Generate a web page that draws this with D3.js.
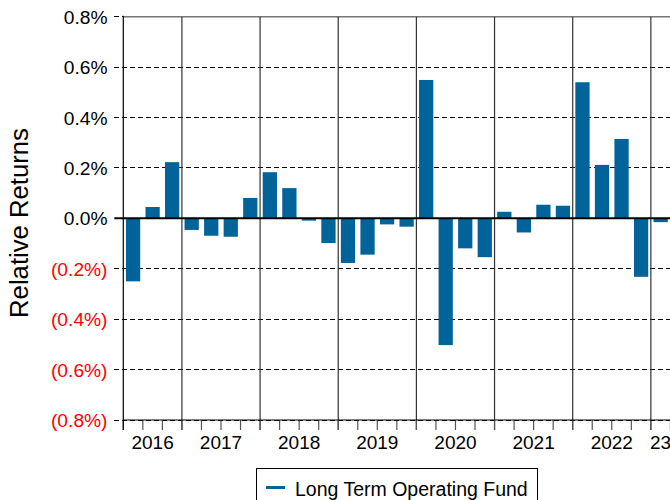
<!DOCTYPE html>
<html>
<head>
<meta charset="utf-8">
<script src="https://cdn.jsdelivr.net/npm/d3@7"></script>
<style>
  html, body { margin: 0; padding: 0; background: #fff; overflow: hidden; }
  svg { display: block; font-family: "Liberation Sans", Arial, sans-serif; }
</style>
</head>
<body>
<svg id="chart" width="670" height="500"></svg>
<script>
// Quarterly relative returns (%), Q2 2016 through Q1 2023
const quarters = [
  "2016Q2", "2016Q3", "2016Q4",
  "2017Q1", "2017Q2", "2017Q3", "2017Q4",
  "2018Q1", "2018Q2", "2018Q3", "2018Q4",
  "2019Q1", "2019Q2", "2019Q3", "2019Q4",
  "2020Q1", "2020Q2", "2020Q3", "2020Q4",
  "2021Q1", "2021Q2", "2021Q3", "2021Q4",
  "2022Q1", "2022Q2", "2022Q3", "2022Q4",
  "2023Q1"
];
const relativeReturns = [
  -0.25, 0.045, 0.223,
  -0.046, -0.069, -0.073, 0.081,
  0.183, 0.120, -0.009, -0.098,
  -0.177, -0.144, -0.024, -0.033,
  0.549, -0.503, -0.119, -0.154,
  0.026, -0.056, 0.054, 0.050,
  0.540, 0.212, 0.315, -0.232,
  -0.015
];
const years = ["2016", "2017", "2018", "2019", "2020", "2021", "2022", "2023"];
const yearLabels = ["2016", "2017", "2018", "2019", "2020", "2021", "2022", "23"];
const yTicks = [-0.8, -0.6, -0.4, -0.2, 0, 0.2, 0.4, 0.6, 0.8];
const seriesName = "Long Term Operating Fund";

const barColor = "#00649b";
const plotLeft = 123.3, plotRight = 670.4, plotTop = 16.7, plotBottom = 420;

const svg = d3.select("#chart");

const y = d3.scaleLinear().domain([-0.8, 0.8]).range([plotBottom, plotTop]);
const pad = 0.27;
const x = d3.scaleBand().domain(quarters).range([plotLeft, plotRight])
  .paddingInner(pad).paddingOuter(pad / 2);
// continuous quarter index scale for boundaries
const xi = d3.scaleLinear().domain([0, quarters.length]).range([plotLeft, plotRight]);

// dashed horizontal gridlines (extend left of the axis as ticks)
svg.append("g").selectAll("line").data(yTicks.filter(d => d !== 0)).join("line")
  .attr("x1", plotLeft - 9).attr("x2", plotRight)
  .attr("y1", d => y(d)).attr("y2", d => y(d))
  .attr("stroke", "#000").attr("stroke-width", 1)
  .attr("stroke-dasharray", "5,3").attr("shape-rendering", "crispEdges");

// top frame
svg.append("line").attr("x1", plotLeft).attr("x2", 670).attr("y1", plotTop).attr("y2", plotTop)
  .attr("stroke", "#777").attr("stroke-width", 1.5);

// year boundary lines
const yearStart = years.map(yr => quarters.findIndex(q => q.startsWith(yr)));
svg.append("g").selectAll("line").data(yearStart.slice(1)).join("line")
  .attr("x1", d => xi(d)).attr("x2", d => xi(d))
  .attr("y1", plotTop).attr("y2", plotBottom + 10)
  .attr("stroke", "#333").attr("stroke-width", 1.2);

// quarter ticks on the x axis
svg.append("g").selectAll("line").data(d3.range(quarters.length + 1)).join("line")
  .attr("x1", d => xi(d)).attr("x2", d => xi(d))
  .attr("y1", plotBottom).attr("y2", plotBottom + 10)
  .attr("stroke", "#555").attr("stroke-width", 1.2);

// bars
svg.append("g").selectAll("rect").data(relativeReturns).join("rect")
  .attr("x", (d, i) => x(quarters[i]))
  .attr("width", x.bandwidth())
  .attr("y", d => y(Math.max(0, d)))
  .attr("height", d => Math.abs(y(d) - y(0)))
  .attr("fill", barColor);

// zero line
svg.append("line").attr("x1", plotLeft - 9).attr("x2", plotRight).attr("y1", y(0)).attr("y2", y(0))
  .attr("stroke", "#000").attr("stroke-width", 2);

// axis lines
svg.append("line").attr("x1", plotLeft).attr("x2", plotLeft).attr("y1", plotTop - 1).attr("y2", plotBottom + 10)
  .attr("stroke", "#000").attr("stroke-width", 1.2);
svg.append("line").attr("x1", plotLeft).attr("x2", plotRight).attr("y1", plotBottom).attr("y2", plotBottom)
  .attr("stroke", "#000").attr("stroke-width", 1.2);

// y tick labels
const fmt = d => {
  const s = Math.abs(d).toFixed(1) + "%";
  return d < 0 ? "(" + s + ")" : s;
};
svg.append("g").selectAll("text").data(yTicks).join("text")
  .attr("x", 107.5).attr("y", d => y(d) + 7)
  .attr("text-anchor", "end")
  .attr("font-size", 19.2)
  .attr("fill", d => d < 0 ? "#ff0000" : "#000")
  .text(fmt);

// year labels, centred in each year's span
const yearEnd = yearStart.slice(1).concat([quarters.length]);
svg.append("g").selectAll("text").data(yearLabels).join("text")
  .attr("x", (d, i) => (xi(yearStart[i]) + xi(yearEnd[i])) / 2)
  .attr("y", 448.5)
  .attr("text-anchor", "middle")
  .attr("font-size", 19)
  .attr("fill", "#000")
  .text(d => d);

// y axis title
svg.append("text")
  .attr("transform", "translate(28,223) rotate(-90)")
  .attr("text-anchor", "middle")
  .attr("font-size", 25.7)
  .attr("fill", "#000")
  .text("Relative Returns");

// legend
const lg = svg.append("g");
lg.append("rect").attr("x", 256.5).attr("y", 468.5).attr("width", 281).attr("height", 40)
  .attr("fill", "#fff").attr("stroke", "#000").attr("stroke-width", 1);
lg.append("line").attr("x1", 266).attr("x2", 285).attr("y1", 487.5).attr("y2", 487.5)
  .attr("stroke", barColor).attr("stroke-width", 3);
lg.append("text").attr("x", 295).attr("y", 495.5).attr("font-size", 19.5).attr("fill", "#000")
  .text(seriesName);
</script>
</body>
</html>
